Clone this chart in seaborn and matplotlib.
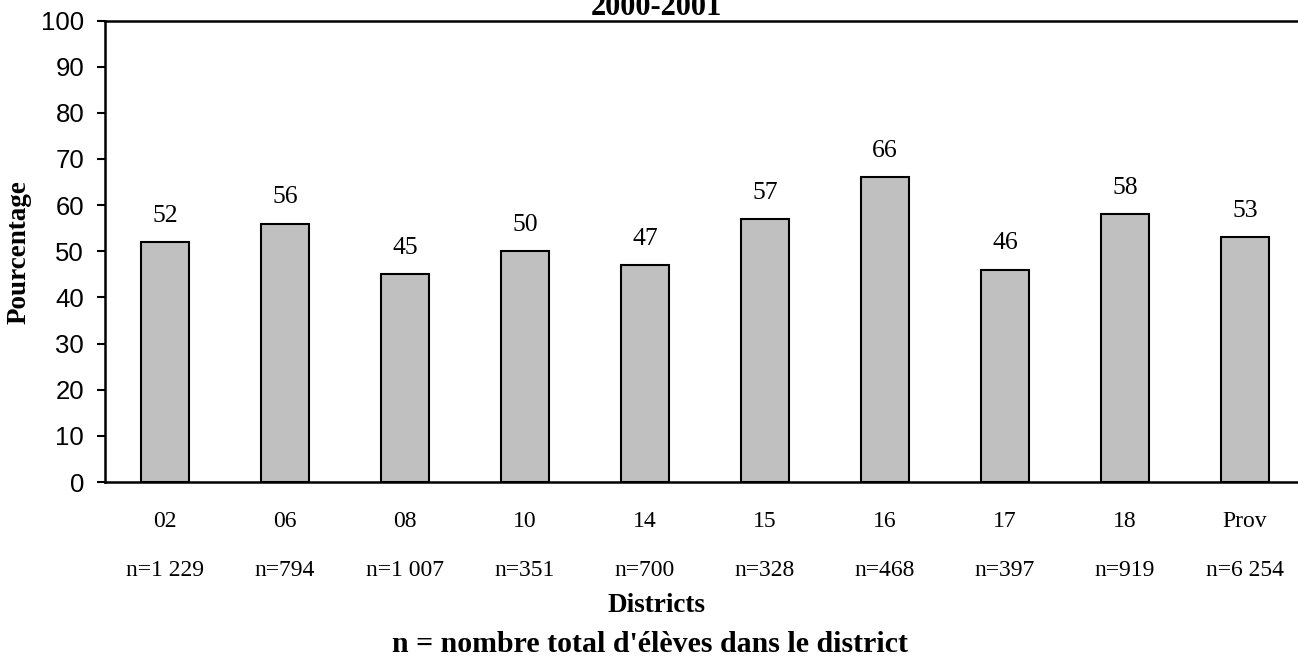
import pandas as pd
import seaborn as sns
import matplotlib.pyplot as plt
import matplotlib.transforms as mtransforms

districts = ['02', '06', '08', '10', '14', '15', '16', '17', '18', 'Prov']
pourcentages = [52, 56, 45, 50, 47, 57, 66, 46, 58, 53]
effectifs = ['n=1 229', 'n=794', 'n=1 007', 'n=351', 'n=700', 'n=328', 'n=468', 'n=397', 'n=919', 'n=6 254']

df = pd.DataFrame({'District': districts, 'Pourcentage': pourcentages})

sns.set_style("white")
plt.rcParams['font.family'] = ['Liberation Serif', 'DejaVu Serif']
plt.rcParams['text.color'] = 'black'
plt.rcParams['xtick.color'] = 'black'
plt.rcParams['ytick.color'] = 'black'
plt.rcParams['axes.labelcolor'] = 'black'

fig = plt.figure(figsize=(12.98, 6.58), dpi=100)
ax = fig.add_axes([105 / 1298, 1 - 482 / 658, 1200 / 1298, (482 - 20.5) / 658])

sns.barplot(
    data=df,
    x='District',
    y='Pourcentage',
    color='#C0C0C0',
    edgecolor='black',
    linewidth=1.5,
    width=0.4,
    saturation=1,
    ax=ax
)

ax.set_xlim(-0.5, 9.5)
ax.set_ylim(0, 100)
ax.set_yticks(range(0, 101, 10))
ax.set_yticklabels([str(v) for v in range(0, 101, 10)], family='Liberation Sans', fontsize=18.5)
ax.tick_params(axis='y', direction='out', length=6, width=1.5, left=True, pad=9)
ax.tick_params(axis='x', length=0, pad=21, labelsize=17)

for side in ['left', 'bottom', 'top']:
    ax.spines[side].set_linewidth(1.8)
    ax.spines[side].set_color('black')
ax.spines['right'].set_visible(False)

# valeurs au-dessus des barres
for i, v in enumerate(pourcentages):
    ax.annotate(str(v), (i, v), xytext=(0, 11), textcoords='offset points',
                ha='center', va='bottom', fontsize=18.5)

# effectifs sous les districts
trans = mtransforms.blended_transform_factory(ax.transData, fig.transFigure)
for i, n in enumerate(effectifs):
    ax.text(i, 1 - 571 / 658, n, transform=trans, ha='center', va='center', fontsize=17)

ax.set_xlabel('')
ax.set_ylabel('')
fig.text(19 / 1298, 1 - 252 / 658, 'Pourcentage', rotation=90, ha='center', va='center',
         fontsize=19.5, fontweight='bold')

fig.text(0.506, 1 - 605 / 658, 'Districts', ha='center', va='center', fontsize=19.5, fontweight='bold')
fig.text(0.501, 1 - 645 / 658, "n = nombre total d'élèves dans le district", ha='center', va='center',
         fontsize=21.5, fontweight='bold')
fig.text(0.506, 1 - 15 / 658, '2000-2001', ha='center', va='baseline', fontsize=22, fontweight='bold')

fig.savefig('out.png', dpi=100)
